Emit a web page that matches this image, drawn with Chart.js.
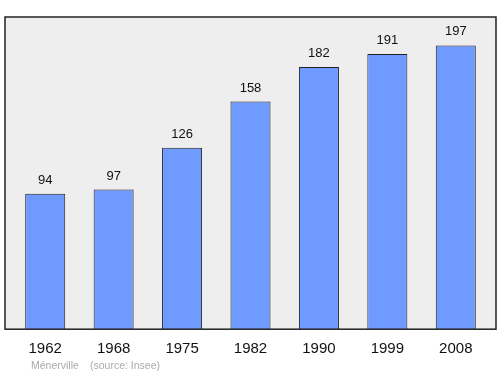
<!DOCTYPE html>
<html>
<head>
<meta charset="utf-8">
<script src="https://cdn.jsdelivr.net/npm/chart.js@4"></script>
<style>
  body { margin: 0; background: #fff; }
  canvas { display: block; }
</style>
</head>
<body>
<canvas id="popChart" width="500" height="374"></canvas>
<script>
// population by census year
const years = ['1962', '1968', '1975', '1982', '1990', '1999', '2008'];
const population = [94, 97, 126, 158, 182, 191, 197];
const townName = 'Ménerville';
const sourceNote = '(source: Insee)';

const FONT = '"Liberation Sans", Arial, sans-serif';

// grey plot box behind the bars
const plotBox = {
  id: 'plotBox',
  beforeDatasetsDraw(chart) {
    const { ctx, chartArea: a } = chart;
    ctx.save();
    ctx.fillStyle = '#eeeeee';
    ctx.fillRect(a.left - 6, a.top, a.right - a.left + 12, a.bottom - a.top);
    ctx.restore();
  },
  afterDatasetsDraw(chart) {
    const { ctx, chartArea: a } = chart;
    ctx.save();
    ctx.strokeStyle = '#222';
    ctx.lineWidth = 1.5;
    ctx.strokeRect(a.left - 6, a.top, a.right - a.left + 12, a.bottom - a.top);
    // value labels
    ctx.fillStyle = '#111';
    ctx.font = '13px ' + FONT;
    ctx.textAlign = 'center';
    ctx.textBaseline = 'bottom';
    chart.getDatasetMeta(0).data.forEach((bar, i) => {
      ctx.fillText(population[i], bar.x, bar.y - 7);
    });
    // footer
    ctx.fillStyle = '#aaa';
    ctx.font = '10.5px ' + FONT;
    ctx.textAlign = 'left';
    ctx.textBaseline = 'middle';
    ctx.fillText(townName, 31, 366);
    ctx.fillText(sourceNote, 90, 366);
    ctx.restore();
  }
};

new Chart(document.getElementById('popChart'), {
  type: 'bar',
  data: {
    labels: years,
    datasets: [{
      data: population,
      backgroundColor: '#6f9aff',
      borderColor: '#222',
      borderWidth: 1,
      categoryPercentage: 1,
      barPercentage: 0.585
    }]
  },
  options: {
    responsive: false,
    animation: false,
    layout: { padding: { left: 11, right: 10, top: 17, bottom: 13.6 } },
    plugins: { legend: { display: false }, tooltip: { enabled: false } },
    scales: {
      x: {
        grid: { display: false },
        border: { display: false },
        ticks: { color: '#111', font: { size: 15, family: FONT }, padding: 2.6 }
      },
      y: { display: false, min: 0, max: 216.7 }
    }
  },
  plugins: [plotBox]
});
</script>
</body>
</html>
